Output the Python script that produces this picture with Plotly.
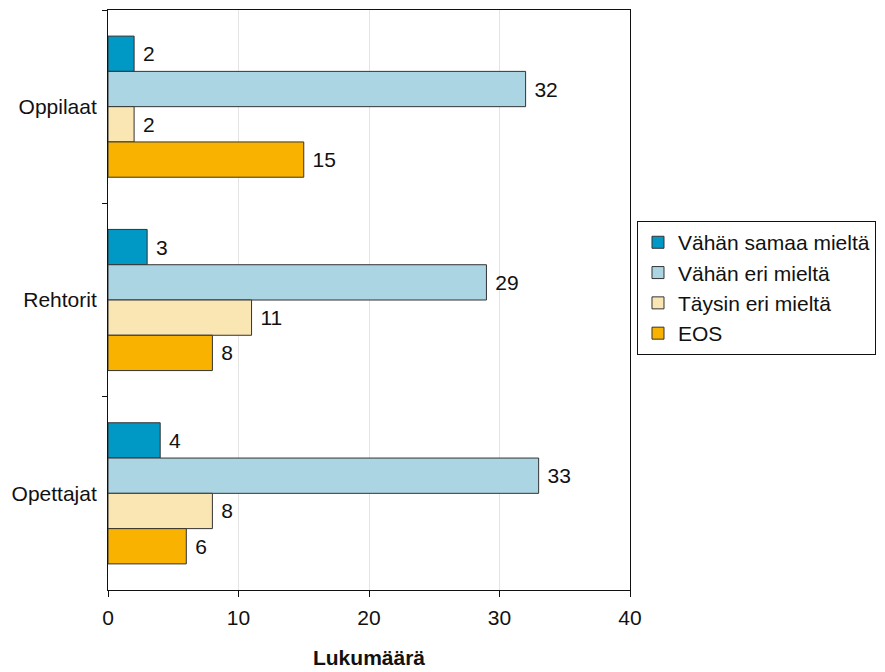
import plotly.graph_objects as go

categories = ["Oppilaat", "Rehtorit", "Opettajat"]
series_names = ["Vähän samaa mieltä", "Vähän eri mieltä", "Täysin eri mieltä", "EOS"]
vahan_samaa = [2, 3, 4]
vahan_eri = [32, 29, 33]
taysin_eri = [2, 11, 8]
eos = [15, 8, 6]
colors = ["#0098C4", "#ABD5E2", "#F9E6B3", "#F9B200"]
x_ticks = [0, 10, 20, 30, 40]

fig = go.Figure()
for name, vals, col in zip(series_names, [vahan_samaa, vahan_eri, taysin_eri, eos], colors):
    fig.add_trace(go.Bar(
        y=categories, x=vals, name=name, orientation="h",
        marker=dict(color=col, line=dict(color="#333333", width=1)),
        texttemplate="\u00a0%{x}", textposition="outside",
        textfont=dict(size=21, color="#111111"), cliponaxis=False,
    ))

fig.update_layout(
    width=885, height=672,
    margin=dict(l=108, r=255, t=10, b=82, autoexpand=False),
    barmode="group", bargap=0.27, bargroupgap=0,
    plot_bgcolor="white", paper_bgcolor="white",
    font=dict(family="Liberation Sans, Arial, sans-serif", size=21, color="#111111"),
    legend=dict(x=1.0134, y=0.636, xanchor="left", yanchor="top",
                bordercolor="#111111", borderwidth=1, font=dict(size=21),
                tracegroupgap=4, itemwidth=30),
    showlegend=True,
)
fig.update_xaxes(range=[0, 40], tickvals=x_ticks, showgrid=True, gridcolor="#E4E4E4",
                 showline=True, linecolor="#111111", mirror=True, ticks="outside",
                 ticklen=6, tickcolor="#111111", zeroline=False, ticklabelstandoff=3,
                 automargin=False,
                 title=dict(text="<b>Lukumäärä</b>", font=dict(size=21), standoff=22))
fig.update_yaxes(autorange="reversed", showline=True, linecolor="#111111", mirror=True,
                 ticks="outside", ticklen=5, tickcolor="#111111", tickson="boundaries",
                 showgrid=False, ticklabelstandoff=6, automargin=False)

fig.write_html("out.html")
